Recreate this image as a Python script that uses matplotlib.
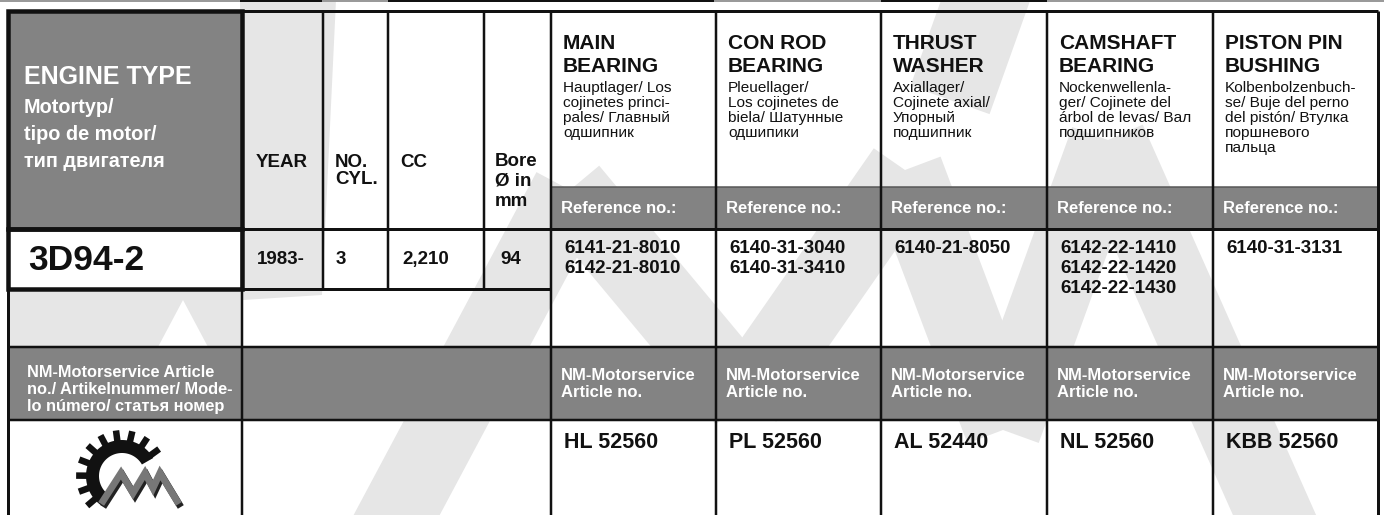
import numpy as np
import matplotlib.pyplot as plt
from matplotlib.patches import Rectangle, Polygon

plt.rcParams['font.family'] = ['Liberation Sans', 'DejaVu Sans']

# ---- table content ----
engine_type = "3D94-2"
year = "1983-"
cylinders = "3"
cc = "2,210"
bore = "94"

part_titles = [["MAIN", "BEARING"], ["CON ROD", "BEARING"], ["THRUST", "WASHER"],
               ["CAMSHAFT", "BEARING"], ["PISTON PIN", "BUSHING"]]
part_subtitles = [
    ["Hauptlager/ Los", "cojinetes princi-", "pales/ Главный", "одшипник"],
    ["Pleuellager/", "Los cojinetes de", "biela/ Шатунные", "одшипики"],
    ["Axiallager/", "Cojinete axial/", "Упорный", "подшипник"],
    ["Nockenwellenla-", "ger/ Cojinete del", "árbol de levas/ Вал", "подшипников"],
    ["Kolbenbolzenbuch-", "se/ Buje del perno", "del pistón/ Втулка", "поршневого", "пальца"],
]
reference_numbers = [
    ["6141-21-8010", "6142-21-8010"],
    ["6140-31-3040", "6140-31-3410"],
    ["6140-21-8050"],
    ["6142-22-1410", "6142-22-1420", "6142-22-1430"],
    ["6140-31-3131"],
]
article_numbers = ["HL 52560", "PL 52560", "AL 52440", "NL 52560", "KBB 52560"]

engine_head = ["ENGINE TYPE", "Motortyp/", "tipo de motor/", "тип двигателя"]
spec_heads = [["YEAR"], ["NO.", "CYL."], ["CC"], ["Bore", "Ø in", "mm"]]
nm_head = ["NM-Motorservice Article", "no./ Artikelnummer/ Mode-", "lo número/ статья номер"]

# ---- layout (pixels) ----
W, H = 1384, 515
cols = [8, 242, 323, 388, 484, 551, 716, 881, 1047, 1213, 1378]
y_top, y_ref, y_head = 11, 187, 229
y_data, y_prod, y_nm = 289, 347, 420
GRAY = '#838383'
WM = '#e6e6e6'
INK = '#111111'

fig = plt.figure(figsize=(W / 100, H / 100), dpi=100)
ax = fig.add_axes([0, 0, 1, 1])
ax.set_xlim(0, W)
ax.set_ylim(H, 0)
ax.axis('off')


def px(w):
    return w * 0.72


def band(points, hw, **kw):
    # thick polyline drawn as polygon strip
    pts = np.array(points, float)
    for a, b in zip(pts[:-1], pts[1:]):
        d = b - a
        n = np.array([-d[1], d[0]]) / np.hypot(*d) * hw
        ax.add_patch(Polygon([a + n, b + n, b - n, a - n], closed=True, lw=0, **kw))


# ---- watermark (big faint logo behind the table) ----
ax.add_patch(Polygon([(240, 0), (336, 0), (322, 295), (243, 300)], closed=True, fc=WM, lw=0, zorder=0))
ax.add_patch(Rectangle((8, y_data), 234, y_prod - y_data, fc=WM, lw=0, zorder=0))
ax.add_patch(Polygon([(158, y_prod), (183, 300), (208, y_prod)], closed=True, fc='white', lw=0, zorder=0.5))
band([(330, 640), (570, 190), (745, 400), (905, 170), (1003, 430), (1108, 140), (1330, 640)], 38,
     fc=WM, zorder=0)
band([(950, 100), (1000, -40)], 42, fc=WM, zorder=0)

# ---- gray fills ----
ax.add_patch(Rectangle((cols[0], y_top), cols[1] - cols[0], y_head - y_top, fc=GRAY, lw=0, zorder=1))
ax.add_patch(Rectangle((cols[5], y_ref), cols[10] - cols[5], y_head - y_ref, fc=GRAY, lw=0, zorder=1))
ax.add_patch(Rectangle((cols[0], y_prod), cols[10] - cols[0], y_nm - y_prod, fc=GRAY, lw=0, zorder=1))


def hl(y, x0, x1, w=2.5, c=INK):
    ax.plot([x0, x1], [y, y], color=c, lw=px(w), solid_capstyle='butt', zorder=3)


def vl(x, y0, y1, w=2.5, c=INK):
    ax.plot([x, x], [y0, y1], color=c, lw=px(w), solid_capstyle='butt', zorder=3)


# top strip line (end of previous table)
for x0, x1, c in [(0, 240, '#9a9a9a'), (240, 322, INK), (322, 388, '#9a9a9a'), (388, 714, INK),
                  (714, 881, '#9a9a9a'), (881, 1047, INK), (1047, 1384, '#9a9a9a')]:
    hl(1, x0, x1, 2, c)

# grid lines
hl(y_top, cols[1], cols[10], 3)
hl(y_ref, cols[5], cols[10], 1.5, '#555555')
hl(y_head, cols[0], cols[10], 3)
hl(y_data, cols[1], cols[5], 3)
hl(y_prod, cols[0], cols[10], 2.5)
hl(y_nm, cols[0], cols[10], 2.5)
for x in cols[2:5]:
    vl(x, y_top, y_data, 2.5)
vl(cols[5], y_top, H, 2.5)
for x in cols[6:10]:
    vl(x, y_top, H, 2.5)
vl(cols[10], y_top, H, 3)
vl(cols[1], y_head, H, 2.5)
vl(cols[0], y_head, H, 3)

# thick boxes: engine type header and engine row
for (x0, y0, x1, y1) in [(cols[0], y_top, cols[1], y_head), (cols[0], y_head, cols[1], y_data)]:
    ax.add_patch(Rectangle((x0, y0), x1 - x0, y1 - y0, fill=False, ec=INK, lw=px(4.5), zorder=4,
                           joinstyle='miter'))


def txt(x, y, s, size, bold=True, color=INK):
    ax.text(x, y, s, fontsize=size, fontweight='bold' if bold else 'normal', color=color,
            ha='left', va='baseline', zorder=5)


# ---- header texts ----
txt(24, 84, engine_head[0], 18, color='white')
for i, s in enumerate(engine_head[1:]):
    txt(24, 113 + 27 * i, s, 14.3, color='white')

spec_x = [cols[1] + 14, cols[2] + 12, cols[3] + 12, cols[4] + 11]
for x, lines in zip(spec_x, spec_heads):
    for i, s in enumerate(lines):
        txt(x, 167 + (17 if len(lines) == 2 else 20) * i - (0 if len(lines) < 3 else 1), s, 13.5)

for k in range(5):
    x = cols[5 + k] + 12
    for i, s in enumerate(part_titles[k]):
        txt(x, 49 + 23 * i, s, 15)
    for i, s in enumerate(part_subtitles[k]):
        txt(x, 92 + 15 * i, s, 11.1, bold=False)
    txt(cols[5 + k] + 10, 213, "Reference no.:", 12, color='white')
    for i, s in enumerate(reference_numbers[k]):
        txt(cols[5 + k] + 13, 253 + 20 * i, s, 13.5)
    txt(cols[5 + k] + 10, 380, "NM-Motorservice", 12, color='white')
    txt(cols[5 + k] + 10, 397, "Article no.", 12, color='white')
    txt(cols[5 + k] + 13, 448, article_numbers[k], 15.5)

# ---- engine row ----
txt(28, 270, engine_type, 25.5)
txt(cols[1] + 15, 264, year, 13.5)
txt(cols[2] + 13, 264, cylinders, 13.5)
txt(cols[3] + 14, 264, cc, 13.5)
txt(cols[4] + 16, 264, bore, 13.5)

for i, s in enumerate(nm_head):
    txt(27, 377 + 17 * i, s, 11.8, color='white')

# ---- NM logo ----
cx, cy = 122, 476
a = np.radians(np.linspace(30, 235, 80))
ring = np.concatenate([np.c_[cx + 36 * np.cos(a), cy - 36 * np.sin(a)],
                       np.c_[cx + 23 * np.cos(a[::-1]), cy - 23 * np.sin(a[::-1])]])
ax.add_patch(Polygon(ring, closed=True, fc='#111111', lw=0, zorder=5))
for t in np.radians(np.arange(36, 236, 20.5)):
    hw = np.radians(5.5)
    pts = [(cx + r * np.cos(t + s * hw * 34 / r), cy - r * np.sin(t + s * hw * 34 / r))
           for r, s in [(33, -1), (46, -1), (46, 1), (33, 1)]]
    ax.add_patch(Polygon(pts, closed=True, fc='#111111', lw=0, zorder=5))
zig = [(103, 501), (121, 473), (133, 493), (145, 473), (153, 488), (160, 473), (177, 501)]
ax.plot([p[0] + 2 for p in zig], [p[1] + 3 for p in zig], color='#222222', lw=5, zorder=5,
        solid_joinstyle='miter')
ax.plot([p[0] for p in zig], [p[1] for p in zig], color='#777777', lw=5, zorder=6,
        solid_joinstyle='miter')

fig.savefig('out.png', dpi=100)
